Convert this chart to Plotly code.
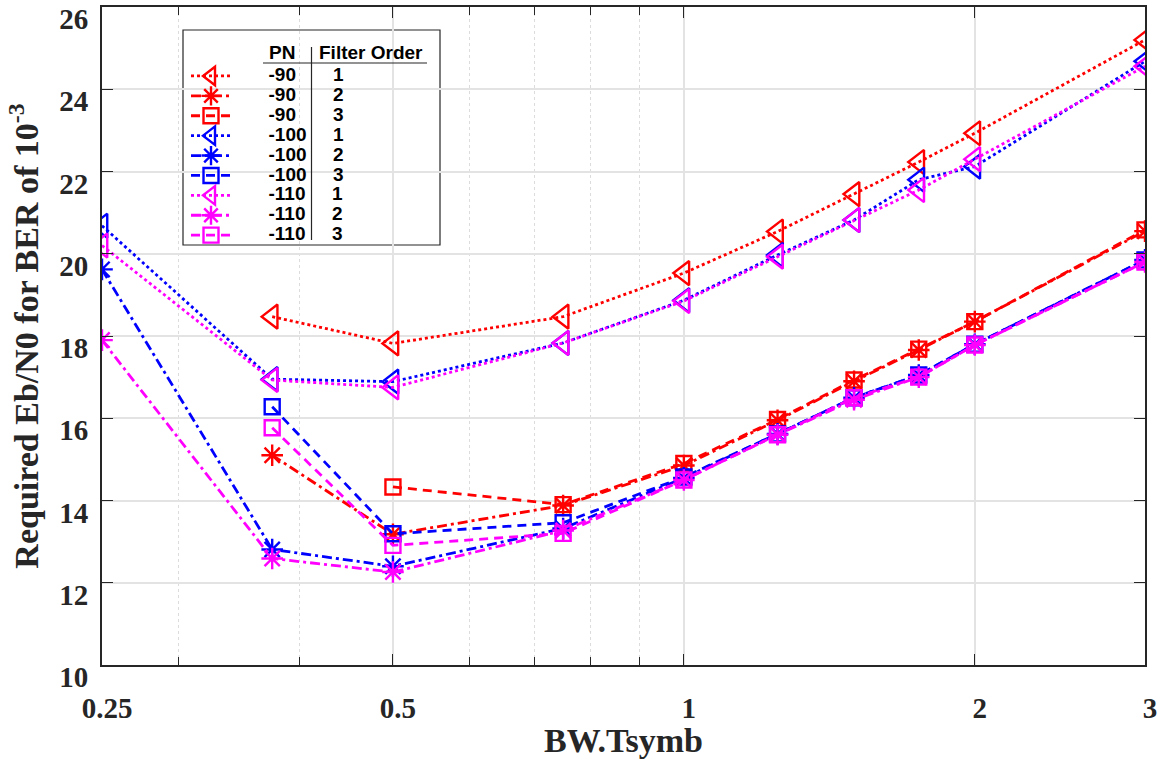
import plotly.graph_objects as go
import math

# ---------------- data ----------------
bw_tsymb = [0.25, 0.375, 0.5, 0.75, 1, 1.25, 1.5, 1.75, 2, 3]

pn_values = ["-90", "-90", "-90", "-100", "-100", "-100", "-110", "-110", "-110"]
filter_orders = ["1", "2", "3", "1", "2", "3", "1", "2", "3"]

pn90_o1 = [None, 18.47, 17.82, 18.47, 19.53, 20.54, 21.45, 22.23, 22.93, 25.20]
pn90_o2 = [None, 15.10, 13.18, 13.88, 14.85, 15.95, 16.90, 17.66, 18.35, 20.55]
pn90_o3 = [None, None, 14.33, 13.90, 14.90, 15.97, 16.93, 17.68, 18.35, 20.58]
pn100_o1 = [20.68, 16.95, 16.89, 17.83, 18.87, 19.97, 20.82, 21.80, 22.12, 24.68]
pn100_o2 = [19.62, 12.81, 12.40, 13.32, 14.55, 15.62, 16.50, 17.05, 17.80, 19.85]
pn100_o3 = [None, 16.28, 13.19, 13.46, 14.57, 15.62, 16.50, 17.05, 17.80, 19.85]
pn110_o1 = [20.20, 16.93, 16.75, 17.83, 18.85, 19.93, 20.82, 21.55, 22.30, 24.56]
pn110_o2 = [17.90, 12.59, 12.26, 13.27, 14.50, 15.60, 16.45, 17.00, 17.78, 19.80]
pn110_o3 = [None, 15.77, 12.91, 13.20, 14.50, 15.60, 16.50, 17.00, 17.78, 19.80]

series = [pn90_o1, pn90_o2, pn90_o3, pn100_o1, pn100_o2, pn100_o3,
          pn110_o1, pn110_o2, pn110_o3]

x_ticks = [0.25, 0.5, 1, 2, 3]
x_ticklabels = ["0.25", "0.5", "1", "2", "3"]
x_minor = [0.3, 0.4, 0.6, 0.7, 0.8, 0.9]
y_ticks = [10, 12, 14, 16, 18, 20, 22, 24, 26]
y_ticklabels = ["10", "12", "14", "16", "18", "20", "22", "24", "26"]

# ---------------- styles ----------------
colors = ["#FF0000"] * 3 + ["#0000FF"] * 3 + ["#FF00FF"] * 3
symbols = ["triangle-left-open", "asterisk-open", "square-open"] * 3
sizes = [21, 18, 15] * 3
dashes = ["3px,3px", "10px,4px,3px,4px", "9px,6px"] * 3

NBSP = "\u00a0"

fig = go.Figure()
for i, ys in enumerate(series):
    pn = pn_values[i]
    pad = NBSP * (2 if len(pn) == 3 else 0)
    name = (NBSP * 9 + '<span style="font-size:19px">' + pn + pad + NBSP * 5
            + filter_orders[i] + "</span>")
    fig.add_trace(go.Scatter(
        x=bw_tsymb, y=ys, mode="lines+markers", name=name,
        line=dict(color=colors[i], width=2.8, dash=dashes[i]),
        marker=dict(symbol=symbols[i], size=sizes[i], color=colors[i],
                    line=dict(color=colors[i], width=2.4)),
    ))

tick_font = dict(family="Liberation Serif", size=29, color="#262626", weight="bold")
title_font = dict(family="Liberation Serif", size=34, color="#262626", weight="bold")

fig.update_xaxes(
    type="log", range=[math.log10(0.25), math.log10(3)],
    tickvals=x_ticks, ticktext=["<b>%s</b>" % t for t in x_ticklabels],
    ticks="inside", ticklen=11, tickwidth=1.3, tickcolor="#262626",
    showline=True, linewidth=2, linecolor="#262626", mirror="ticks",
    showgrid=True, gridcolor="#E3E3E3", gridwidth=1.5,
    minor=dict(tickvals=x_minor, ticks="inside", ticklen=8, tickcolor="#262626",
               showgrid=True, gridcolor="#DCDCDC", griddash="dot", gridwidth=1),
    tickfont=tick_font, ticklabelstandoff=16, ticklabelshift=5,
    ticklabeloverflow="allow", automargin=False,
    title=dict(text=NBSP * 3 + "<b>BW.Tsymb</b>", font=title_font, standoff=4),
    zeroline=False,
)
fig.update_yaxes(
    range=[10, 26], tickvals=y_ticks, ticktext=["<b>%s</b>" % t for t in y_ticklabels],
    ticks="inside", ticklen=11, tickwidth=1.3, tickcolor="#262626",
    showline=True, linewidth=2, linecolor="#262626", mirror="ticks",
    showgrid=True, gridcolor="#E3E3E3", gridwidth=1.5,
    tickfont=tick_font, ticklabelstandoff=6, ticklabelshift=12,
    ticklabeloverflow="allow", automargin=False,
    title=dict(text="<b>Required Eb/N0 for BER of 10<sup>-3</sup></b>", font=title_font, standoff=10),
    zeroline=False,
)

# legend frame, header and separators (paper coordinates)
L, R, T, B = 102, 1145, 7, 665
W, H = R - L, B - T
def px(xp):
    return (xp - L) / W
def py(yp):
    return (B - yp) / H

fig.add_shape(type="rect", xref="paper", yref="paper",
              x0=px(183), x1=px(440), y0=py(245), y1=py(30),
              line=dict(color="#262626", width=1.2), fillcolor="white", layer="between")
fig.add_shape(type="line", xref="paper", yref="paper",
              x0=px(263), x1=px(427), y0=py(63), y1=py(63),
              line=dict(color="#262626", width=1.2))
fig.add_shape(type="line", xref="paper", yref="paper",
              x0=px(311.5), x1=px(311.5), y0=py(240), y1=py(47),
              line=dict(color="#262626", width=1.2))

hdr_font = dict(family="Liberation Sans", size=19, color="#000000", weight="bold")
fig.add_annotation(text="<b>PN</b>", xref="paper", yref="paper", x=px(282), y=py(52),
                   xanchor="center", yanchor="middle", showarrow=False, font=hdr_font)
fig.add_annotation(text="<b>Filter Order</b>", xref="paper", yref="paper", x=px(371), y=py(52),
                   xanchor="center", yanchor="middle", showarrow=False, font=hdr_font)

fig.update_layout(
    width=1166, height=759,
    margin=dict(l=L, r=1166 - R, t=T, b=759 - B),
    paper_bgcolor="white", plot_bgcolor="white",
    showlegend=True,
    legend=dict(x=px(186), y=py(61), xanchor="left", yanchor="top",
                bgcolor="rgba(0,0,0,0)", borderwidth=0,
                font=dict(family="Liberation Sans", size=13, color="#000000", weight="bold"),
                itemwidth=40, tracegroupgap=0),
)

fig.write_html("out.html")
